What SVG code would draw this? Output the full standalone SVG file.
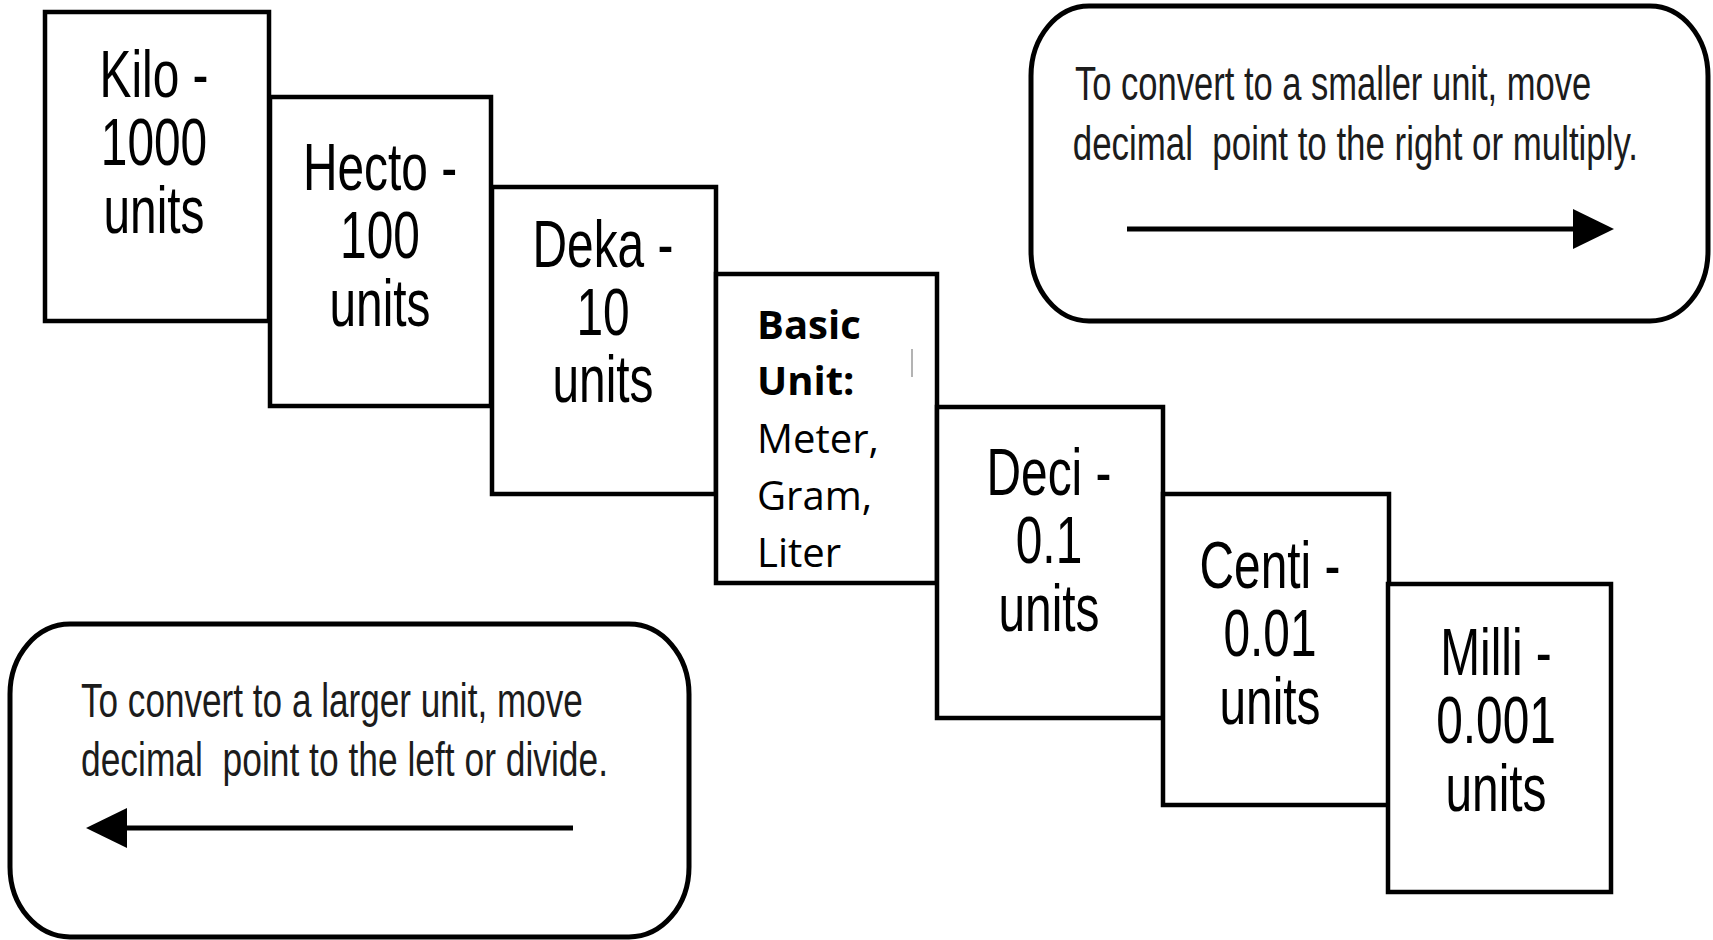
<svg xmlns="http://www.w3.org/2000/svg" width="1713" height="940" viewBox="0 0 1713 940">
  <style>
    .box { fill: #ffffff; stroke: #000000; stroke-width: 4.5; }
    .note { fill: #ffffff; stroke: #000000; stroke-width: 5; }
    .big { font-family: "Liberation Sans", Arial, sans-serif; font-size: 66px; fill: #000000; text-anchor: middle; }
    .basic { font-family: "Open Sans", "Noto Sans", sans-serif; font-size: 40px; fill: #000000; }
    .basic .b { font-weight: bold; }
    .hint { font-family: "Liberation Sans", Arial, sans-serif; font-size: 48px; fill: #1c1c1c; white-space: pre; }
    .arrow { stroke: #000000; stroke-width: 5; fill: none; marker-end: url(#head); }
  </style>
  <defs>
    <marker id="head" markerUnits="userSpaceOnUse" viewBox="0 0 42 40" markerWidth="42" markerHeight="40" refX="0" refY="20" orient="auto">
      <path d="M0,0 L41,20 L0,40 Z" fill="#000000"/>
    </marker>
  </defs>

  <rect width="1713" height="940" fill="#ffffff"/>

  <!-- metric prefix staircase -->
  <g id="kilo">
    <rect class="box" x="45" y="12" width="224" height="309"/>
    <g transform="translate(154 0) scale(0.725 1)">
      <text class="big" x="0" y="97">Kilo -</text>
      <text class="big" x="0" y="165">1000</text>
      <text class="big" x="0" y="233">units</text>
    </g>
  </g>

  <g id="hecto">
    <rect class="box" x="270" y="97" width="221" height="309"/>
    <g transform="translate(380 0) scale(0.725 1)">
      <text class="big" x="0" y="190">Hecto -</text>
      <text class="big" x="0" y="258">100</text>
      <text class="big" x="0" y="326">units</text>
    </g>
  </g>

  <g id="deka">
    <rect class="box" x="492" y="187" width="224" height="307"/>
    <g transform="translate(603 0) scale(0.725 1)">
      <text class="big" x="0" y="267">Deka -</text>
      <text class="big" x="0" y="335">10</text>
      <text class="big" x="0" y="402">units</text>
    </g>
  </g>

  <g id="basic">
    <rect class="box" x="716" y="274" width="221" height="309"/>
    <text class="basic" x="757" y="339"><tspan class="b">Basic</tspan></text>
    <text class="basic" x="757" y="395"><tspan class="b">Unit:</tspan></text>
    <text class="basic" x="757" y="453">Meter,</text>
    <text class="basic" x="757" y="510">Gram,</text>
    <text class="basic" x="757" y="567">Liter</text>
    <line x1="912" y1="349" x2="912" y2="377" stroke="#9a9a9a" stroke-width="1.5"/>
  </g>

  <g id="deci">
    <rect class="box" x="937" y="407" width="226" height="311"/>
    <g transform="translate(1049 0) scale(0.725 1)">
      <text class="big" x="0" y="495">Deci -</text>
      <text class="big" x="0" y="563">0.1</text>
      <text class="big" x="0" y="631">units</text>
    </g>
  </g>

  <g id="centi">
    <rect class="box" x="1163" y="494" width="226" height="311"/>
    <g transform="translate(1270 0) scale(0.725 1)">
      <text class="big" x="0" y="588">Centi -</text>
      <text class="big" x="0" y="656">0.01</text>
      <text class="big" x="0" y="724">units</text>
    </g>
  </g>

  <g id="milli">
    <rect class="box" x="1388" y="584" width="223" height="308"/>
    <g transform="translate(1496 0) scale(0.725 1)">
      <text class="big" x="0" y="675">Milli -</text>
      <text class="big" x="0" y="743">0.001</text>
      <text class="big" x="0" y="811">units</text>
    </g>
  </g>

  <!-- conversion notes (text set in a condensed width) -->
  <g id="to-smaller">
    <rect class="note" x="1031" y="6" width="677" height="315" rx="58" ry="70"/>
    <g transform="translate(1075 0) scale(0.72 1)">
      <text class="hint" x="0" y="100" textLength="717" lengthAdjust="spacingAndGlyphs">To convert to a smaller unit, move</text>
      <text class="hint" x="-3" y="160" textLength="785" lengthAdjust="spacingAndGlyphs">decimal  point to the right or multiply.</text>
    </g>
  </g>

  <g id="to-larger">
    <rect class="note" x="10" y="624" width="679" height="313" rx="60" ry="70"/>
    <g transform="translate(81 0) scale(0.72 1)">
      <text class="hint" x="0" y="717" textLength="697" lengthAdjust="spacingAndGlyphs">To convert to a larger unit, move</text>
      <text class="hint" x="0" y="776" textLength="732" lengthAdjust="spacingAndGlyphs">decimal  point to the left or divide.</text>
    </g>
  </g>

  <!-- direction arrows -->
  <g id="connectors">
    <line class="arrow" x1="1127" y1="229" x2="1573" y2="229"/>
    <line class="arrow" x1="573" y1="828" x2="127" y2="828"/>
  </g>
</svg>
